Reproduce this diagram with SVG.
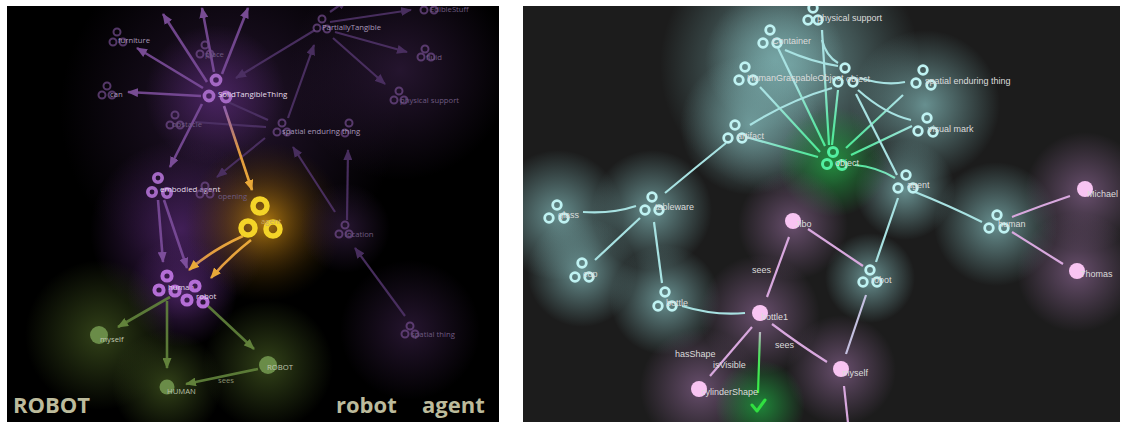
<svg xmlns="http://www.w3.org/2000/svg" width="1123" height="423" viewBox="0 0 1123 423">
<defs>
<style>
.lbl{font-family:"Open Sans","DejaVu Sans",sans-serif;font-size:7.7px;fill:#a898b8}
.lblb{font-family:"Open Sans","DejaVu Sans",sans-serif;font-size:7.9px;fill:#e4dcea}
.lblf{font-family:"Open Sans","DejaVu Sans",sans-serif;font-size:7.7px;fill:#6e5a80}
.big{font-family:"Open Sans","DejaVu Sans",sans-serif;font-size:22px;font-weight:700;fill:#bcbb9c}
.rl{font-family:"Liberation Sans",Arial,sans-serif;font-size:9px;fill:#dcdcdc}
.rf{fill:none;stroke:#6f4a88;stroke-width:2;opacity:.75}
.rp{fill:none;stroke:#a468c4;stroke-width:3.6}
.rs{fill:none;stroke:#b46ed6;stroke-width:4}
.ry{fill:none;stroke:#f4d428;stroke-width:5.5}
.ep{fill:none;stroke:#8050a0;stroke-width:2.6;opacity:.85;marker-end:url(#ap)}
.ef{fill:none;stroke:#4e3266;stroke-width:2.2;opacity:.9;marker-end:url(#apf)}
.eo{fill:none;stroke:url(#gOr);stroke-width:2.6;marker-end:url(#ao)}
.eg{fill:none;stroke:#62843c;stroke-width:2.6;opacity:.9;marker-end:url(#ag)}
.gn{fill:#6a8c48}
.rc{fill:none;stroke:#bff2f2;stroke-width:2.8}
.rg{fill:none;stroke:#52f0a0;stroke-width:3}
.pk{fill:#f8c4f2}
.ec{fill:none;stroke:#a8e2e2;stroke-width:2.2}
.eob{fill:none;stroke:url(#gObj);stroke-width:2.2}
.epk{fill:none;stroke:#d8a8de;stroke-width:2.2}
</style>
<marker id="ap" markerUnits="userSpaceOnUse" markerWidth="11" markerHeight="9" refX="10" refY="4.5" orient="auto"><path d="M0,0 L11,4.5 L0,9 z" fill="#8a58aa"/></marker>
<marker id="apf" markerUnits="userSpaceOnUse" markerWidth="11" markerHeight="9" refX="10" refY="4.5" orient="auto"><path d="M0,0 L11,4.5 L0,9 z" fill="#4e3266"/></marker>
<marker id="ao" markerUnits="userSpaceOnUse" markerWidth="11" markerHeight="9" refX="10" refY="4.5" orient="auto"><path d="M0,0 L11,4.5 L0,9 z" fill="#e8a838"/></marker>
<marker id="ag" markerUnits="userSpaceOnUse" markerWidth="11" markerHeight="9" refX="10" refY="4.5" orient="auto"><path d="M0,0 L11,4.5 L0,9 z" fill="#6a8c40"/></marker>
<radialGradient id="gP"><stop offset="0" stop-color="#5a2a78" stop-opacity=".7"/><stop offset="1" stop-color="#5a2a78" stop-opacity="0"/></radialGradient>
<radialGradient id="gPd"><stop offset="0" stop-color="#2e1a3a" stop-opacity=".8"/><stop offset="1" stop-color="#2e1a3a" stop-opacity="0"/></radialGradient>
<radialGradient id="gY"><stop offset="0" stop-color="#c88a10" stop-opacity=".85"/><stop offset=".5" stop-color="#7a5008" stop-opacity=".45"/><stop offset="1" stop-color="#3a2804" stop-opacity="0"/></radialGradient>
<radialGradient id="gGl"><stop offset="0" stop-color="#3a4c1c" stop-opacity=".85"/><stop offset="1" stop-color="#3a4c1c" stop-opacity="0"/></radialGradient>
<radialGradient id="gC"><stop offset="0" stop-color="#7aacac" stop-opacity=".8"/><stop offset="1" stop-color="#7aacac" stop-opacity="0"/></radialGradient>
<radialGradient id="gG"><stop offset="0" stop-color="#20a040" stop-opacity=".8"/><stop offset="1" stop-color="#20a040" stop-opacity="0"/></radialGradient>
<radialGradient id="gK"><stop offset="0" stop-color="#7a5a80" stop-opacity=".8"/><stop offset="1" stop-color="#7a5a80" stop-opacity="0"/></radialGradient>
<radialGradient id="gOr" gradientUnits="userSpaceOnUse" cx="258" cy="215" r="110"><stop offset="0" stop-color="#f2b634"/><stop offset=".6" stop-color="#e09a40"/><stop offset="1" stop-color="#9060a8"/></radialGradient>
<radialGradient id="gObj" gradientUnits="userSpaceOnUse" cx="834" cy="158" r="85"><stop offset="0" stop-color="#44f08c"/><stop offset=".45" stop-color="#60e4a8"/><stop offset="1" stop-color="#a8e2e2"/></radialGradient>
<radialGradient id="gChk" gradientUnits="userSpaceOnUse" cx="758" cy="400" r="75"><stop offset="0" stop-color="#30f040"/><stop offset=".6" stop-color="#50e060"/><stop offset="1" stop-color="#d8a8de"/></radialGradient>
<clipPath id="cL"><rect x="7" y="6" width="492" height="416"/></clipPath>
<clipPath id="cR"><rect x="523" y="6" width="597" height="416"/></clipPath>
</defs>
<rect width="1123" height="423" fill="#fff"/>

<!-- LEFT PANEL -->
<g id="left-panel" clip-path="url(#cL)">
<rect x="7" y="6" width="492" height="416" fill="#000"/>
<g id="left-glows">
<circle cx="230" cy="110" r="170" fill="url(#gPd)"/>
<circle cx="400" cy="70" r="110" fill="url(#gPd)"/>
<circle cx="215" cy="95" r="70" fill="url(#gP)"/>
<circle cx="180" cy="230" r="90" fill="url(#gP)"/>
<circle cx="182" cy="292" r="55" fill="url(#gP)"/>
<circle cx="265" cy="222" r="80" fill="url(#gY)"/>
<circle cx="100" cy="335" r="75" fill="url(#gGl)"/>
<circle cx="167" cy="385" r="55" fill="url(#gGl)"/>
<circle cx="268" cy="365" r="65" fill="url(#gGl)"/>
<circle cx="410" cy="330" r="70" fill="url(#gPd)"/>
<circle cx="345" cy="228" r="45" fill="url(#gPd)"/>
</g>
<g id="left-edges">
<path class="ep" d="M207,82 L163,14"/>
<path class="ep" d="M203,88 L137,48"/>
<path class="ep" d="M201,96 L128,92"/>
<path class="ep" d="M214,72 L202,8"/>
<path class="ep" d="M222,74 L248,8"/>
<path class="ef" d="M315,30 L236,78"/>
<path class="ef" d="M330,12 L347,0"/>
<path class="ef" d="M330,22 L411,10"/>
<path class="ef" d="M335,32 L407,52"/>
<path class="ef" d="M333,38 L385,84"/>
<path class="ef" d="M288,118 L314,45"/>
<path class="ef" d="M228,102 L268,120" style="marker-end:none"/>
<path class="ef" d="M195,122 L266,127" style="marker-end:none"/>
<path class="ef" d="M265,138 L217,177"/>
<path class="ef" d="M335,212 L293,147"/>
<path class="ef" d="M347,220 L348,150"/>
<path class="ef" d="M405,316 L355,248"/>
<path class="ep" d="M202,104 L170,167"/>
<path class="eo" d="M224,106 L252,190"/>
<path class="ep" d="M158,200 L163,262"/>
<path class="ep" d="M164,200 L187,268"/>
<path class="eo" d="M243,236 Q212,250 189,270"/>
<path class="eo" d="M251,240 Q228,258 211,278"/>
<path class="eg" d="M170,297 L118,327"/>
<path class="eg" d="M167,301 L167,368"/>
<path class="eg" d="M208,306 L254,349"/>
<path class="eg" d="M258,369 L186,384"/>
<text class="lbl" x="218" y="383" style="fill:#8a9070">sees</text>
</g>
<g id="l-furniture"><circle class="rf" cx="117" cy="32" r="3.5"/><circle class="rf" cx="113" cy="42" r="3.5"/><circle class="rf" cx="123" cy="42" r="3.5"/><text class="lbl" x="118" y="43">furniture</text></g>
<g id="l-place"><circle class="rf" cx="205" cy="45" r="3.5"/><circle class="rf" cx="200" cy="54" r="3.5"/><circle class="rf" cx="210" cy="54" r="3.5"/><text class="lblf" x="205" y="57">place</text></g>
<g id="l-can"><circle class="rf" cx="107" cy="86" r="3.5"/><circle class="rf" cx="102" cy="95" r="3.5"/><circle class="rf" cx="112" cy="95" r="3.5"/><text class="lbl" x="110" y="97">can</text></g>
<g id="l-obstacle"><circle class="rf" cx="175" cy="115" r="3.5"/><circle class="rf" cx="170" cy="125" r="3.5"/><circle class="rf" cx="180" cy="125" r="3.5"/><text class="lblf" x="172" y="127">obstacle</text></g>
<g id="l-solidtangiblething"><circle class="rp" cx="216" cy="80" r="4.6"/><circle class="rp" cx="209" cy="96" r="4.6"/><circle class="rp" cx="226" cy="97" r="4.6"/><text class="lblb" x="218" y="97">SolidTangibleThing</text></g>
<g id="l-partiallytangible"><circle class="rf" cx="322" cy="19" r="3.5"/><circle class="rf" cx="317" cy="28" r="3.5"/><circle class="rf" cx="327" cy="29" r="3.5"/><text class="lbl" x="322" y="30">PartiallyTangible</text></g>
<g id="l-ediblestuff"><circle class="rf" cx="424" cy="10" r="3.5"/><circle class="rf" cx="434" cy="10" r="3.5"/><text class="lblf" x="430" y="12">EdibleStuff</text></g>
<g id="l-fluid"><circle class="rf" cx="425" cy="49" r="3.5"/><circle class="rf" cx="421" cy="57" r="3.5"/><circle class="rf" cx="431" cy="57" r="3.5"/><text class="lblf" x="426" y="60">fluid</text></g>
<g id="l-physicalsupport"><circle class="rf" cx="399" cy="91" r="3.5"/><circle class="rf" cx="394" cy="100" r="3.5"/><circle class="rf" cx="404" cy="100" r="3.5"/><text class="lblf" x="400" y="103">physical support</text></g>
<g id="l-spatialenduringthing"><circle class="rf" cx="349" cy="123" r="3.5" opacity=".5"/><circle class="rf" cx="345" cy="133" r="3.5" opacity=".5"/><circle class="rf" cx="282" cy="123" r="3.5"/><circle class="rf" cx="277" cy="132" r="3.5"/><circle class="rf" cx="287" cy="132" r="3.5"/><text class="lbl" x="282" y="134">spatial enduring thing</text></g>
<g id="l-embodiedagent"><circle class="rp" cx="158" cy="178" r="4.2"/><circle class="rp" cx="152" cy="192" r="4.2"/><circle class="rp" cx="167" cy="193" r="4.2"/><text class="lblb" x="160" y="192">embodied agent</text></g>
<g id="l-opening"><circle class="rf" cx="205" cy="186" r="3.5" opacity=".5"/><circle class="rf" cx="200" cy="194" r="3.5" opacity=".5"/><circle class="rf" cx="210" cy="194" r="3.5" opacity=".5"/><text class="lblf" x="218" y="199">opening</text></g>
<g id="l-agent"><circle class="ry" cx="260" cy="206" r="7"/><circle class="ry" cx="248" cy="228" r="7"/><circle class="ry" cx="273" cy="229" r="7"/><text class="lbl" x="261" y="224" style="fill:#c8a860">agent</text></g>
<g id="l-location"><circle class="rf" cx="345" cy="225" r="3.5"/><circle class="rf" cx="339" cy="234" r="3.5"/><circle class="rf" cx="349" cy="234" r="3.5"/><text class="lblf" x="345" y="237">location</text></g>
<g id="l-human"><circle class="rs" cx="167" cy="276" r="4.6"/><circle class="rs" cx="159" cy="290" r="4.6"/><circle class="rs" cx="175" cy="291" r="4.6"/><text class="lblb" x="168" y="290">human</text></g>
<g id="l-robot"><circle class="rs" cx="195" cy="286" r="4.6"/><circle class="rs" cx="187" cy="300" r="4.6"/><circle class="rs" cx="203" cy="302" r="4.6"/><text class="lblb" x="196" y="299">robot</text></g>
<g id="l-spatialthing"><circle class="rf" cx="410" cy="326" r="3.5" opacity=".6"/><circle class="rf" cx="405" cy="334" r="3.5" opacity=".6"/><circle class="rf" cx="415" cy="334" r="3.5" opacity=".6"/><text class="lblf" x="411" y="337">spatial thing</text></g>
<g id="l-myself"><circle class="gn" cx="99" cy="335" r="9"/><text class="lbl" x="100" y="342" style="fill:#c0c8b0">myself</text></g>
<g id="l-HUMAN"><circle class="gn" cx="167" cy="387" r="7.5"/><text class="lbl" x="167" y="394" style="fill:#b8c0a8">HUMAN</text></g>
<g id="l-ROBOT"><circle class="gn" cx="268" cy="365" r="9"/><text class="lbl" x="267" y="370" style="fill:#c0c8b0">ROBOT</text></g>
<text class="big" x="13" y="413">ROBOT</text>
<text class="big" x="336" y="413">robot</text>
<text class="big" x="422" y="413">agent</text>
</g>

<!-- RIGHT PANEL -->
<g id="right-panel" clip-path="url(#cR)">
<rect x="523" y="6" width="597" height="416" fill="#1c1c1c"/>
<g id="right-glows">
<circle cx="790" cy="65" r="130" fill="url(#gC)"/>
<circle cx="775" cy="60" r="70" fill="url(#gC)"/>
<circle cx="925" cy="105" r="75" fill="url(#gC)"/>
<circle cx="750" cy="125" r="70" fill="url(#gC)"/>
<circle cx="905" cy="190" r="50" fill="url(#gC)"/>
<circle cx="833" cy="162" r="55" fill="url(#gG)"/>
<circle cx="558" cy="215" r="65" fill="url(#gC)"/>
<circle cx="652" cy="210" r="60" fill="url(#gC)"/>
<circle cx="582" cy="272" r="55" fill="url(#gC)"/>
<circle cx="665" cy="300" r="55" fill="url(#gC)"/>
<circle cx="996" cy="224" r="62" fill="url(#gC)"/>
<circle cx="870" cy="278" r="45" fill="url(#gC)"/>
<circle cx="793" cy="225" r="55" fill="url(#gK)"/>
<circle cx="760" cy="315" r="60" fill="url(#gK)"/>
<circle cx="700" cy="388" r="60" fill="url(#gK)"/>
<circle cx="841" cy="370" r="55" fill="url(#gK)"/>
<circle cx="1085" cy="192" r="60" fill="url(#gK)"/>
<circle cx="1077" cy="272" r="60" fill="url(#gK)"/>
<circle cx="760" cy="405" r="45" fill="url(#gG)"/>
</g>
<g id="right-edges">
<path class="ec" d="M665,193 Q695,168 726,143"/>
<path class="ec" d="M583,212 Q612,214 636,206"/>
<path class="ec" d="M640,218 L595,260"/>
<path class="ec" d="M654,222 L662,283"/>
<path class="ec" d="M682,306 Q715,316 745,313"/>
<path class="eob" d="M746,137 L818,157"/>
<path class="eob" d="M760,87 L820,152"/>
<path class="eob" d="M778,48 L825,146"/>
<path class="eob" d="M822,30 L829,145"/>
<path class="eob" d="M838,90 L832,145"/>
<path class="eob" d="M903,95 L846,148"/>
<path class="eob" d="M912,126 L851,155"/>
<path class="eob" d="M855,165 Q877,167 895,178"/>
<path class="ec" d="M822,40 Q826,56 838,63"/>
<path class="ec" d="M785,50 Q812,62 838,66"/>
<path class="ec" d="M750,125 Q790,100 832,88"/>
<path class="ec" d="M860,78 Q885,86 905,82"/>
<path class="ec" d="M858,90 Q885,114 911,120"/>
<path class="ec" d="M856,94 L897,175"/>
<path class="ec" d="M915,192 Q950,206 982,222"/>
<path class="ec" d="M898,198 L876,262"/>
<path class="epk" d="M1012,217 Q1040,206 1070,196"/>
<path class="epk" d="M1012,232 L1063,264"/>
<path class="epk" d="M863,266 L808,229"/>
<path class="epk" d="M866,295 L846,354" style="stroke:#c4c0e0"/>
<path class="epk" d="M789,237 L767,297"/>
<path class="epk" d="M772,324 Q800,345 827,362"/>
<path class="epk" d="M752,327 L710,376"/>
<path class="epk" d="M760,332 L758,393" style="stroke:url(#gChk)"/>
<path class="epk" d="M844,386 L848,423"/>
<text class="rl" x="752" y="273">sees</text>
<text class="rl" x="775" y="348">sees</text>
<text class="rl" x="675" y="357">hasShape</text>
<text class="rl" x="713" y="368">isVisible</text>
</g>
<g id="r-physicalsupport"><circle class="rc" cx="813" cy="8" r="4.3"/><circle class="rc" cx="808" cy="20" r="4.3"/><circle class="rc" cx="818" cy="20" r="4.3"/><text class="rl" x="817" y="21">physical support</text></g>
<g id="r-container"><circle class="rc" cx="770" cy="30" r="4.3"/><circle class="rc" cx="763" cy="43" r="4.3"/><circle class="rc" cx="777" cy="43" r="4.3"/><text class="rl" x="772" y="44">Container</text></g>
<g id="r-humangraspableobject"><circle class="rc" cx="745" cy="67" r="4.3"/><circle class="rc" cx="739" cy="80" r="4.3"/><circle class="rc" cx="753" cy="80" r="4.3"/><text class="rl" x="747" y="81">HumanGraspableObject</text></g>
<g id="r-object2"><circle class="rc" cx="845" cy="68" r="4.3"/><circle class="rc" cx="838" cy="82" r="4.3"/><circle class="rc" cx="853" cy="82" r="4.3"/><text class="rl" x="846" y="82">object</text></g>
<g id="r-spatialenduringthing"><circle class="rc" cx="923" cy="70" r="4.3"/><circle class="rc" cx="916" cy="83" r="4.3"/><circle class="rc" cx="931" cy="85" r="4.3"/><text class="rl" x="925" y="84">spatial enduring thing</text></g>
<g id="r-visualmark"><circle class="rc" cx="927" cy="118" r="4.3"/><circle class="rc" cx="918" cy="131" r="4.3"/><circle class="rc" cx="933" cy="132" r="4.3"/><text class="rl" x="928" y="132">visual mark</text></g>
<g id="r-artifact"><circle class="rc" cx="735" cy="125" r="4.3"/><circle class="rc" cx="728" cy="138" r="4.3"/><circle class="rc" cx="742" cy="138" r="4.3"/><text class="rl" x="737" y="139">artifact</text></g>
<g id="r-object"><circle class="rg" cx="833" cy="152" r="4.5"/><circle class="rg" cx="827" cy="164" r="4.5"/><circle class="rg" cx="842" cy="165" r="4.5"/><text class="rl" x="835" y="166">object</text></g>
<g id="r-agent"><circle class="rc" cx="906" cy="175" r="4.3"/><circle class="rc" cx="898" cy="188" r="4.3"/><circle class="rc" cx="913" cy="188" r="4.3"/><text class="rl" x="907" y="188">agent</text></g>
<g id="r-human"><circle class="rc" cx="997" cy="215" r="4.3"/><circle class="rc" cx="989" cy="228" r="4.3"/><circle class="rc" cx="1004" cy="228" r="4.3"/><text class="rl" x="998" y="227">human</text></g>
<g id="r-michael"><circle class="pk" cx="1085" cy="189" r="8"/><text class="rl" x="1087" y="197">Michael</text></g>
<g id="r-thomas"><circle class="pk" cx="1077" cy="271" r="8"/><text class="rl" x="1080" y="277">Thomas</text></g>
<g id="r-tableware"><circle class="rc" cx="652" cy="197" r="4.3"/><circle class="rc" cx="645" cy="210" r="4.3"/><circle class="rc" cx="659" cy="210" r="4.3"/><text class="rl" x="655" y="210">tableware</text></g>
<g id="r-glass"><circle class="rc" cx="557" cy="205" r="4.3"/><circle class="rc" cx="549" cy="218" r="4.3"/><circle class="rc" cx="564" cy="218" r="4.3"/><text class="rl" x="558" y="218">glass</text></g>
<g id="r-cup"><circle class="rc" cx="582" cy="263" r="4.3"/><circle class="rc" cx="575" cy="277" r="4.3"/><circle class="rc" cx="589" cy="277" r="4.3"/><text class="rl" x="583" y="277">cup</text></g>
<g id="r-bottle"><circle class="rc" cx="665" cy="292" r="4.3"/><circle class="rc" cx="658" cy="306" r="4.3"/><circle class="rc" cx="672" cy="306" r="4.3"/><text class="rl" x="666" y="306">bottle</text></g>
<g id="r-robot"><circle class="rc" cx="870" cy="270" r="4.3"/><circle class="rc" cx="863" cy="282" r="4.3"/><circle class="rc" cx="877" cy="282" r="4.3"/><text class="rl" x="871" y="283">robot</text></g>
<g id="r-jibo"><circle class="pk" cx="793" cy="221" r="8"/><text class="rl" x="795" y="227">Jibo</text></g>
<g id="r-bottle1"><circle class="pk" cx="760" cy="313" r="8"/><text class="rl" x="761" y="320">bottle1</text></g>
<g id="r-myself"><circle class="pk" cx="841" cy="369" r="8"/><text class="rl" x="842" y="376">myself</text></g>
<g id="r-cylindershape"><circle class="pk" cx="699" cy="389" r="8"/><text class="rl" x="701" y="395">cylinderShape</text></g>
<g id="r-check"><path d="M752,405 L757,411 L765,400" fill="none" stroke="#30e040" stroke-width="3" stroke-linecap="round" stroke-linejoin="round"/></g>
</g>
</svg>
